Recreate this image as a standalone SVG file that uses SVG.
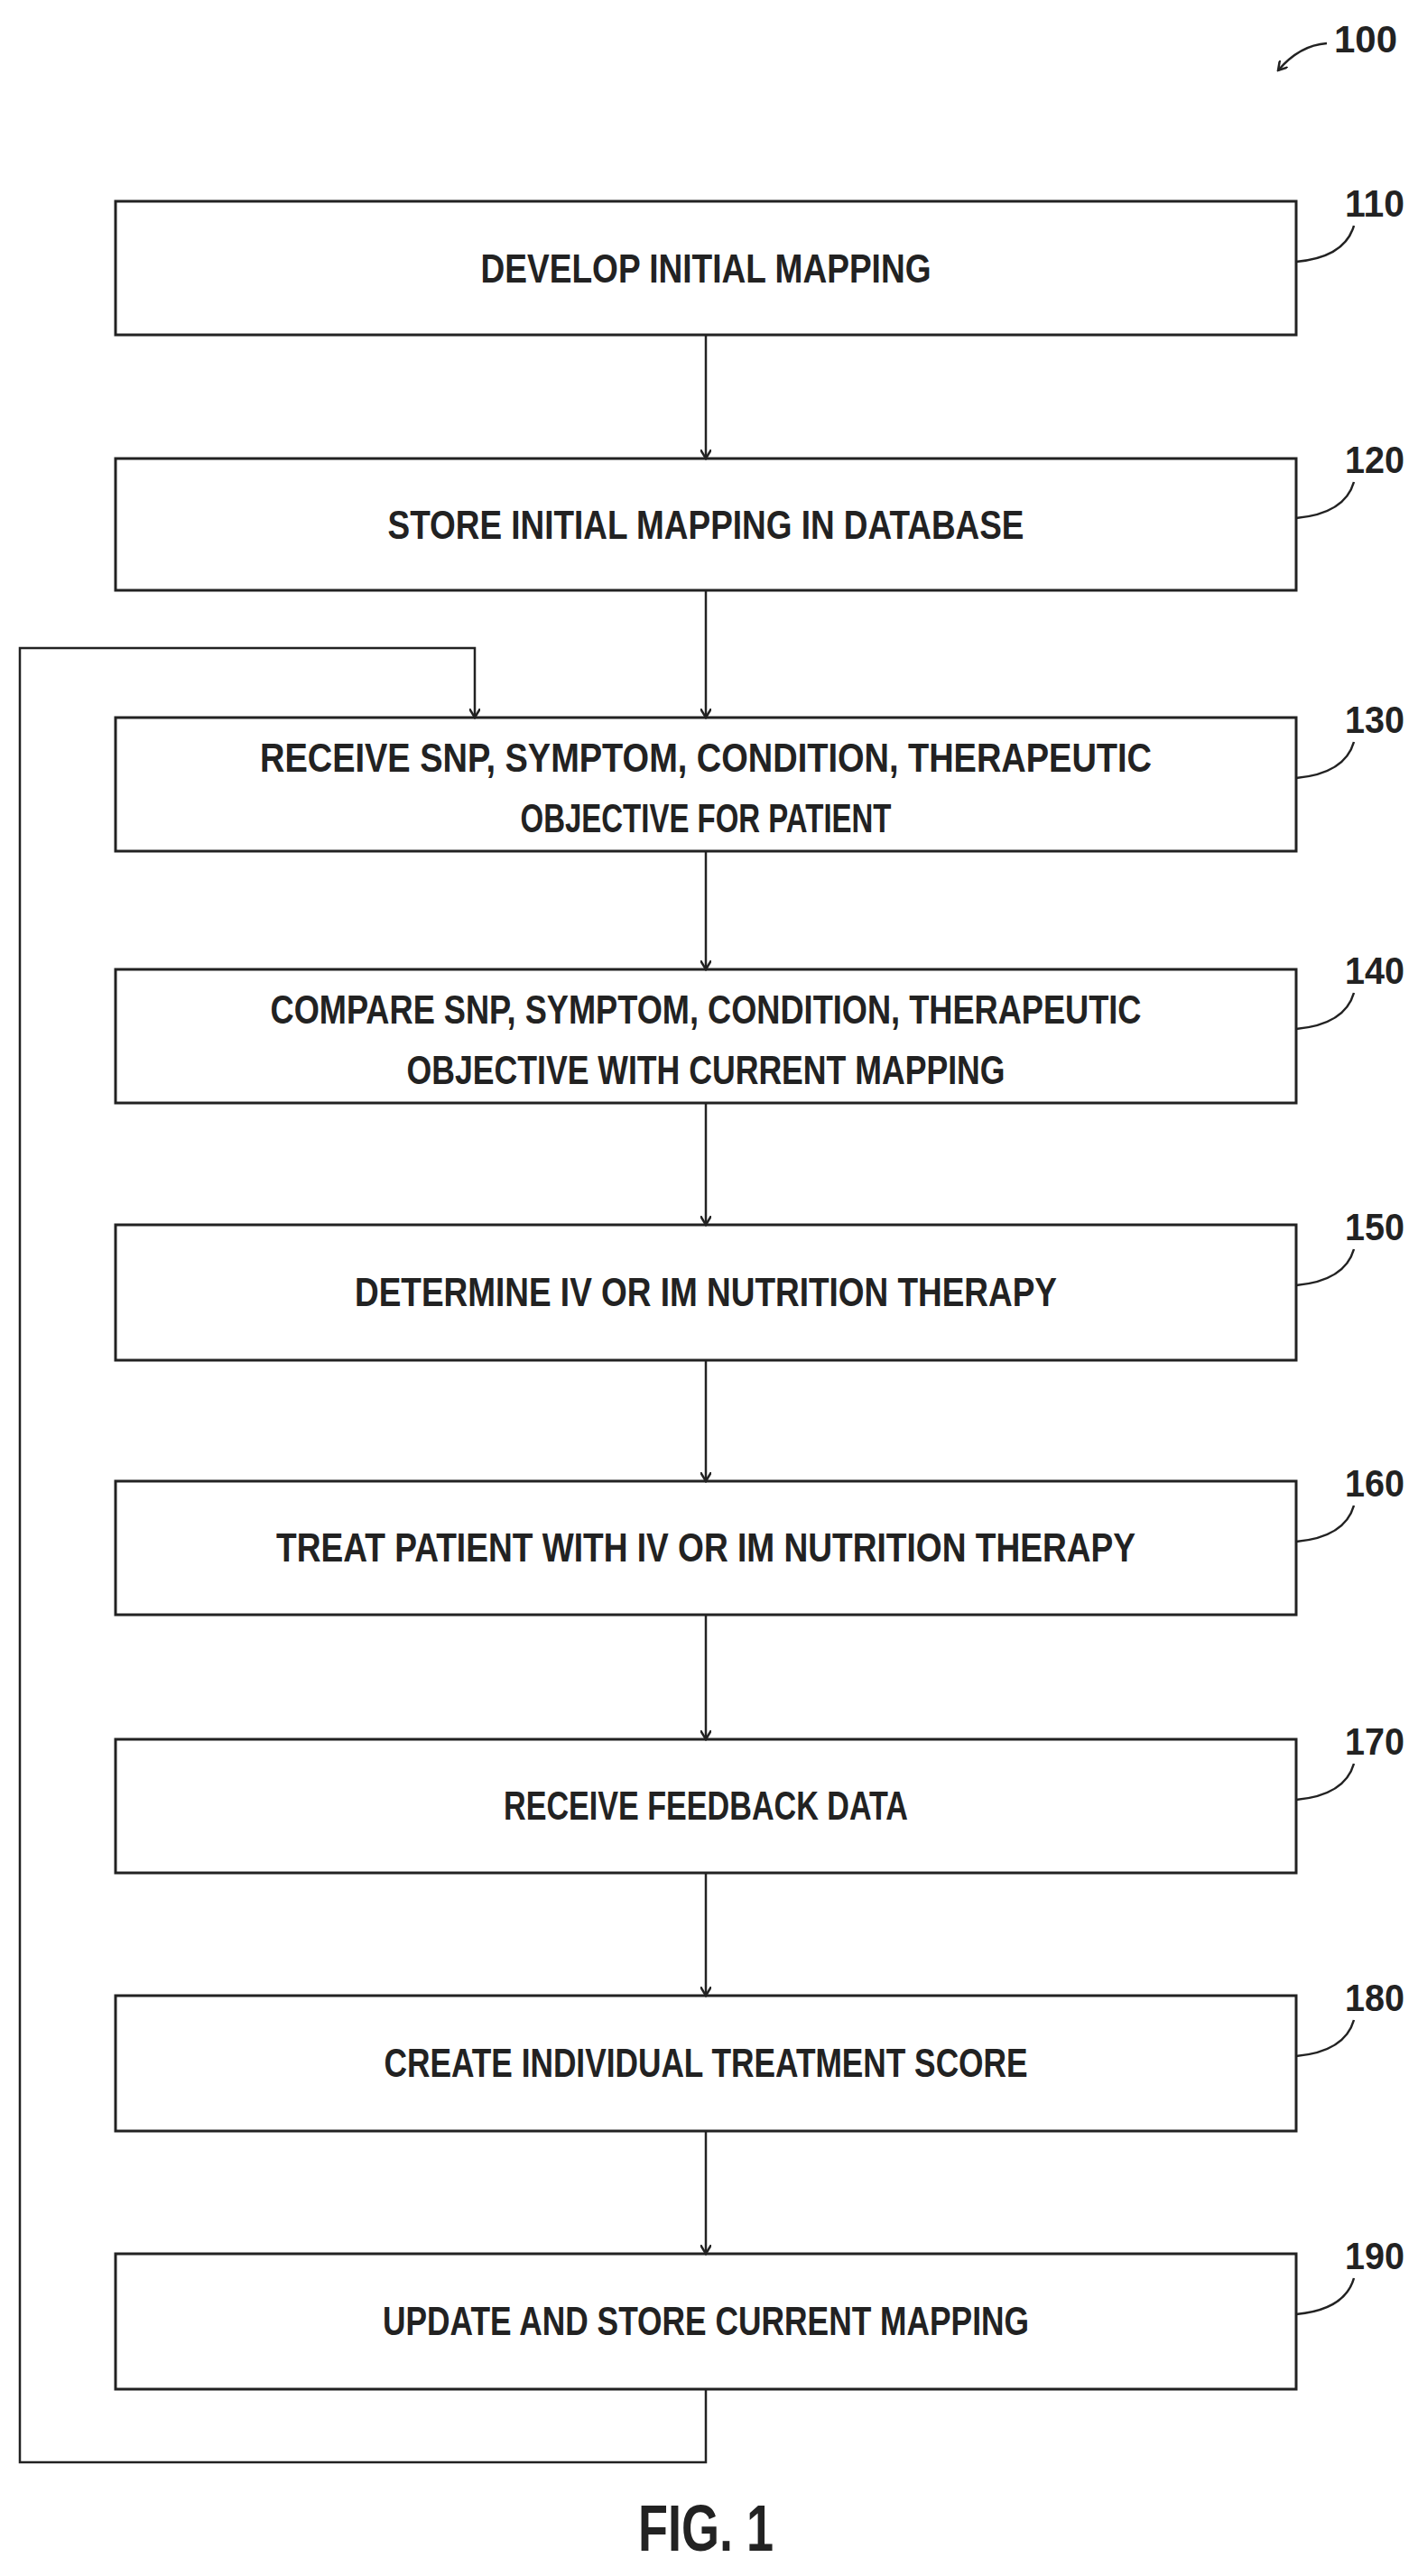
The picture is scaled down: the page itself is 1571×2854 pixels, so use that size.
<svg xmlns="http://www.w3.org/2000/svg" width="1571" height="2854" viewBox="0 0 1571 2854">
<style>
.b{fill:#fff;stroke:#222;stroke-width:3}
.t{font-family:"Liberation Sans",sans-serif;font-size:44px;font-weight:bold;fill:#222;text-anchor:middle}
.n{font-family:"Liberation Sans",sans-serif;font-size:42px;font-weight:bold;fill:#222}
.c{fill:none;stroke:#222;stroke-width:2.5}
</style>
<defs><marker id="a" markerWidth="12" markerHeight="12" refX="10" refY="6" orient="auto" markerUnits="userSpaceOnUse"><path d="M0,0 L10,6 L0,12" fill="none" stroke="#222" stroke-width="2.5"/></marker></defs>
<g id="ref100"><text class="n" x="1478" y="58" textLength="70" lengthAdjust="spacingAndGlyphs">100</text><path class="c" d="M1470,48 Q1440,50 1416,78" marker-end="url(#a)"/></g>
<g id="n110"><rect class="b" x="128" y="223" width="1308" height="148"/><text class="t" x="782" y="313" textLength="499" lengthAdjust="spacingAndGlyphs">DEVELOP INITIAL MAPPING</text><path class="c" d="M1436,290 Q1490,285 1500,250"/><text class="n" x="1490" y="240" textLength="66" lengthAdjust="spacingAndGlyphs">110</text></g>
<g id="n120"><rect class="b" x="128" y="508" width="1308" height="146"/><text class="t" x="782" y="597" textLength="705" lengthAdjust="spacingAndGlyphs">STORE INITIAL MAPPING IN DATABASE</text><path class="c" d="M1436,574 Q1490,569 1500,534"/><text class="n" x="1490" y="524" textLength="66" lengthAdjust="spacingAndGlyphs">120</text></g>
<g id="n130"><rect class="b" x="128" y="795" width="1308" height="148"/><text class="t" x="782" y="855" textLength="988" lengthAdjust="spacingAndGlyphs">RECEIVE SNP, SYMPTOM, CONDITION, THERAPEUTIC</text><text class="t" x="782" y="922" textLength="411" lengthAdjust="spacingAndGlyphs">OBJECTIVE FOR PATIENT</text><path class="c" d="M1436,862 Q1490,857 1500,822"/><text class="n" x="1490" y="812" textLength="66" lengthAdjust="spacingAndGlyphs">130</text></g>
<g id="n140"><rect class="b" x="128" y="1074" width="1308" height="148"/><text class="t" x="782" y="1134" textLength="965" lengthAdjust="spacingAndGlyphs">COMPARE SNP, SYMPTOM, CONDITION, THERAPEUTIC</text><text class="t" x="782" y="1201" textLength="663" lengthAdjust="spacingAndGlyphs">OBJECTIVE WITH CURRENT MAPPING</text><path class="c" d="M1436,1140 Q1490,1135 1500,1100"/><text class="n" x="1490" y="1090" textLength="66" lengthAdjust="spacingAndGlyphs">140</text></g>
<g id="n150"><rect class="b" x="128" y="1357" width="1308" height="150"/><text class="t" x="782" y="1447" textLength="778" lengthAdjust="spacingAndGlyphs">DETERMINE IV OR IM NUTRITION THERAPY</text><path class="c" d="M1436,1424 Q1490,1419 1500,1384"/><text class="n" x="1490" y="1374" textLength="66" lengthAdjust="spacingAndGlyphs">150</text></g>
<g id="n160"><rect class="b" x="128" y="1641" width="1308" height="148"/><text class="t" x="782" y="1730" textLength="952" lengthAdjust="spacingAndGlyphs">TREAT PATIENT WITH IV OR IM NUTRITION THERAPY</text><path class="c" d="M1436,1708 Q1490,1703 1500,1668"/><text class="n" x="1490" y="1658" textLength="66" lengthAdjust="spacingAndGlyphs">160</text></g>
<g id="n170"><rect class="b" x="128" y="1927" width="1308" height="148"/><text class="t" x="782" y="2016" textLength="448" lengthAdjust="spacingAndGlyphs">RECEIVE FEEDBACK DATA</text><path class="c" d="M1436,1994 Q1490,1989 1500,1954"/><text class="n" x="1490" y="1944" textLength="66" lengthAdjust="spacingAndGlyphs">170</text></g>
<g id="n180"><rect class="b" x="128" y="2211" width="1308" height="150"/><text class="t" x="782" y="2301" textLength="713" lengthAdjust="spacingAndGlyphs">CREATE INDIVIDUAL TREATMENT SCORE</text><path class="c" d="M1436,2278 Q1490,2273 1500,2238"/><text class="n" x="1490" y="2228" textLength="66" lengthAdjust="spacingAndGlyphs">180</text></g>
<g id="n190"><rect class="b" x="128" y="2497" width="1308" height="150"/><text class="t" x="782" y="2587" textLength="716" lengthAdjust="spacingAndGlyphs">UPDATE AND STORE CURRENT MAPPING</text><path class="c" d="M1436,2564 Q1490,2559 1500,2524"/><text class="n" x="1490" y="2514" textLength="66" lengthAdjust="spacingAndGlyphs">190</text></g>
<g id="connectors">
<path class="c" d="M782,371 V508" marker-end="url(#a)"/>
<path class="c" d="M782,654 V795" marker-end="url(#a)"/>
<path class="c" d="M782,943 V1074" marker-end="url(#a)"/>
<path class="c" d="M782,1222 V1357" marker-end="url(#a)"/>
<path class="c" d="M782,1507 V1641" marker-end="url(#a)"/>
<path class="c" d="M782,1789 V1927" marker-end="url(#a)"/>
<path class="c" d="M782,2075 V2211" marker-end="url(#a)"/>
<path class="c" d="M782,2361 V2497" marker-end="url(#a)"/>
<path class="c" d="M782,2647 V2728 H22 V718 H526 V795" marker-end="url(#a)"/>
</g>
<text x="782" y="2826" font-family="Liberation Sans,sans-serif" font-size="72" font-weight="bold" fill="#222" text-anchor="middle" textLength="150" lengthAdjust="spacingAndGlyphs">FIG. 1</text>
</svg>
